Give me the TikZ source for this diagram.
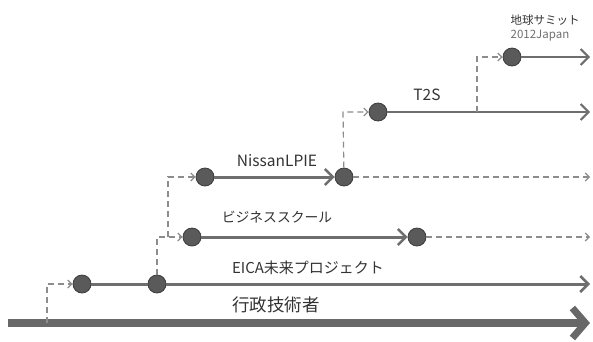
\documentclass[tikz,border=0pt]{standalone}
\usepackage{fontspec}
\setmainfont{Noto Sans CJK JP}
\usetikzlibrary{arrows.meta}
\definecolor{lineg}{HTML}{6E6E6E}
\definecolor{dashg}{HTML}{8C8C8C}
\definecolor{dotf}{HTML}{5A5A5A}
\definecolor{dotd}{HTML}{3C3C3C}
\definecolor{txt}{HTML}{333333}
\tikzset{
  dot/.style={circle,fill=dotf,draw=dotd,line width=0.8pt,minimum size=18pt,inner sep=0pt},
  solidline/.style={draw=lineg,line width=3pt,-{Straight Barb[length=8pt,width=16pt,line width=2.5pt]}},
  thinline/.style={draw=lineg,line width=2pt,-{Straight Barb[length=8pt,width=16pt,line width=2pt]}},
  dashline/.style={draw=dashg,line width=1.2pt,dash pattern=on 6pt off 4pt},
  dasharrow/.style={dashline,-{Straight Barb[length=4pt,width=8pt,line width=1.2pt]}},
  lbl/.style={text=txt,inner sep=0pt}
}
\begin{document}
\begin{tikzpicture}[x=1pt,y=-1pt]
\useasboundingbox (0,0) rectangle (593,341);
% main arrow
\coordinate (ms) at (8,323);
\coordinate (me) at (590,323);
\draw[draw=lineg!95!black,line width=8pt,-{Straight Barb[length=13pt,width=30pt,line width=7pt]}] (ms) -- (me);
\node[lbl,font=\fontsize{17.5}{20}\selectfont] (tgyo) at (276,305) {行政技術者};
% EICA
\node[dot] (c1) at (82,284) {};
\node[dot] (c2) at (157,284) {};
\coordinate (e1) at (590,284);
\draw[solidline] (c1) -- (c2) -- (e1);
\node[lbl,font=\fontsize{15}{18}\selectfont] (teica) at (308,268) {EICA未来プロジェクト};
\coordinate (d1) at (47,323);
\coordinate (d1b) at (47,284);
\draw[dasharrow] (d1) -- (d1b) -- (c1);
% business school
\node[dot] (c3) at (192,237) {};
\node[dot] (c4) at (417,237) {};
\coordinate (e3) at (590,237);
\draw[solidline] (c3) -- (c4);
\draw[dasharrow] (c4) -- (e3);
\node[lbl,font=\fontsize{13.8}{16}\selectfont] (tbiz) at (277,217) {ビジネススクール};
\coordinate (d2b) at (157,237);
\draw[dasharrow] (c2) -- (d2b) -- (c3);
% Nissan
\node[dot] (c5) at (205,177) {};
\node[dot] (c6) at (344,177) {};
\coordinate (e5) at (590,177);
\draw[solidline] (c5) -- (c6);
\draw[dasharrow] (c6) -- (e5);
\node[lbl,font=\fontsize{15.5}{18}\selectfont] (tnis) at (277,161) {NissanLPIE};
\coordinate (d3a) at (168,237);
\coordinate (d3b) at (168,177);
\draw[dasharrow] (d3a) -- (d3b) -- (c5);
% T2S
\node[dot] (c7) at (378,112) {};
\coordinate (e7) at (590,112);
\draw[thinline] (c7) -- (e7);
\node[lbl,font=\fontsize{15.5}{18}\selectfont] (tt2s) at (427,95) {T2S};
\coordinate (d4b) at (343,112);
\draw[dasharrow] (c6) -- (d4b) -- (c7);
% Earth summit
\node[dot] (c8) at (512,57) {};
\coordinate (e8) at (590,57);
\draw[thinline] (c8) -- (e8);
\node[lbl,font=\fontsize{11.5}{14}\selectfont] (tchi) at (545,20) {地球サミット};
\node[lbl,font=\fontsize{11.5}{14}\selectfont,text=txt!70] (tjap) at (540,36) {2012Japan};
\coordinate (d5a) at (477,112);
\coordinate (d5b) at (477,57);
\draw[dasharrow] (d5a) -- (d5b) -- (c8);
\end{tikzpicture}
\end{document}
